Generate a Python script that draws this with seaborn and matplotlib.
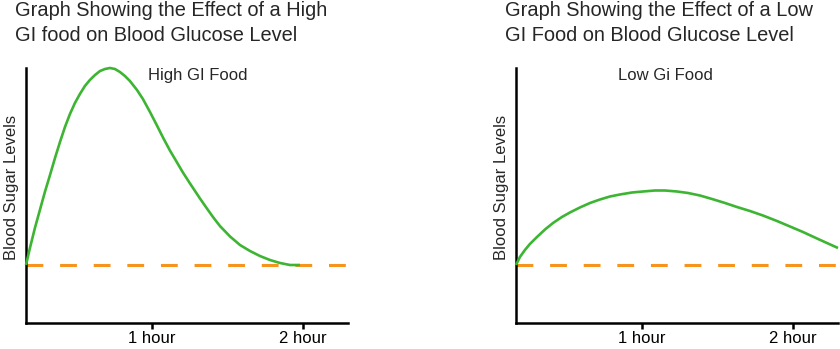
import matplotlib
matplotlib.use("Agg")
import matplotlib.pyplot as plt
import seaborn as sns
import pandas as pd

# ---- data (hours, relative blood sugar level) ----
high_hours = [0.166, 0.192, 0.225, 0.258, 0.291, 0.325, 0.358, 0.391, 0.424, 0.457,
              0.490, 0.523, 0.556, 0.589, 0.623, 0.656, 0.689, 0.722, 0.755, 0.788,
              0.821, 0.854, 0.901, 0.940, 0.987, 1.033, 1.073, 1.119, 1.166, 1.205,
              1.252, 1.285, 1.318, 1.364, 1.404, 1.450, 1.517, 1.583, 1.649, 1.715,
              1.781, 1.848, 1.914, 1.980]
high_level = [58, 75, 95, 113, 131, 148, 165, 181, 196, 209,
              220, 229, 237, 243, 248, 252, 254, 255, 254, 251,
              247, 242, 233, 224, 211, 197.5, 185.5, 172.5, 160.5, 150.5,
              139.5, 132, 124.5, 114.5, 106, 97, 86.5, 78, 72, 67,
              63, 60, 58, 58]

low_hours = [0.166, 0.192, 0.225, 0.258, 0.305, 0.358, 0.411, 0.470, 0.523, 0.589,
             0.656, 0.722, 0.788, 0.854, 0.934, 1.007, 1.086, 1.152, 1.232, 1.305,
             1.384, 1.464, 1.550, 1.629, 1.715, 1.801, 1.894, 1.980, 2.066, 2.159,
             2.232, 2.298]
low_level = [58, 66, 73, 79, 86, 93.5, 100, 106, 110.5, 115.5,
             120, 123.5, 126.5, 128.5, 130.5, 131.5, 132.5, 132.5, 131.5, 130,
             127.5, 124, 120, 116, 112, 107.5, 102, 96.5, 91, 84.5,
             79.5, 75]

baseline_hours = [0.166, 2.298]
baseline_level = [58, 58]

tick_positions = [1, 2]
tick_labels = ["1 hour", "2 hour"]

titles = ["Graph Showing the Effect of a High\nGI food on Blood Glucose Level",
          "Graph Showing the Effect of a Low\nGI Food on Blood Glucose Level"]
curve_labels = ["High GI Food", "Low Gi Food"]
ylabel = "Blood Sugar Levels"

sns.set_style("white")
plt.rcParams["font.family"] = ["Liberation Sans", "DejaVu Sans"]

GREEN = "#3db533"
ORANGE = "#f7941d"

fig = plt.figure(figsize=(8.4, 3.49), dpi=100)
W, H = 840, 349
ax_boxes = [(26, 348), (516, 838)]
top_px, bot_px = 68, 323

curves = [(high_hours, high_level), (low_hours, low_level)]
title_x = [15, 505]
label_pos = [0.379, 0.317]

for i, ((x0, x1), (hx, hy)) in enumerate(zip(ax_boxes, curves)):
    ax = fig.add_axes([x0 / W, (H - bot_px) / H, (x1 - x0) / W, (bot_px - top_px) / H])
    dfb = pd.DataFrame({"t": baseline_hours, "v": baseline_level})
    sns.lineplot(data=dfb, x="t", y="v", ax=ax, color=ORANGE, linewidth=2.2,
                 zorder=2).lines[-1].set_dashes((5.5, 5.5))
    dfc = pd.DataFrame({"t": hx, "v": hy})
    sns.lineplot(data=dfc, x="t", y="v", ax=ax, color=GREEN, linewidth=1.9,
                 sort=False, zorder=3)
    for ln in ax.lines:
        ln.set_solid_capstyle("butt")
        ln.set_dash_capstyle("butt")
        ln.set_solid_joinstyle("round")
        ln.set_clip_on(False)
    ax.set_xlim(0.166, 2.298)
    ax.set_ylim(0, 255)
    for s in ["top", "right"]:
        ax.spines[s].set_visible(False)
    for s in ["left", "bottom"]:
        ax.spines[s].set_linewidth(1.8)
        ax.spines[s].set_color("black")
    ax.set_yticks([])
    ax.set_xticks(tick_positions)
    ax.set_xticklabels(tick_labels, fontsize=12)
    ax.tick_params(axis="x", direction="out", length=4, width=1.8, pad=2,
                   colors="black", bottom=True)
    ax.set_xlabel("")
    ax.set_ylabel(ylabel, fontsize=12, labelpad=4)
    ax.yaxis.set_label_coords(-0.022, 0.53)
    ax.text(label_pos[i], 1.0, curve_labels[i], transform=ax.transAxes,
            fontsize=12, va="top", ha="left")
    fig.text(title_x[i] / W, 1 - 1 / H, titles[i], fontsize=14.4, va="top", ha="left",
             linespacing=1.4)

fig.savefig("out.png", dpi=100)
